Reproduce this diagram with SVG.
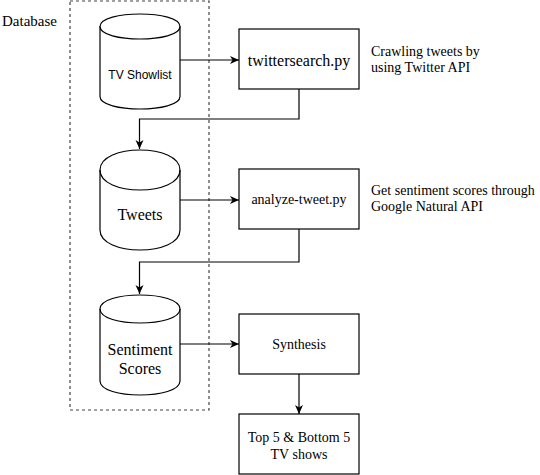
<svg xmlns="http://www.w3.org/2000/svg" width="540" height="475" viewBox="0 0 540 475">
<style>
.shape{fill:#fff;stroke:#000;stroke-width:1.2}
.edge{fill:none;stroke:#000;stroke-width:1.2}
.serif{font-family:'Liberation Serif','Times New Roman',Times,Tinos,'Nimbus Roman','Nimbus Roman No9 L','FreeSerif','Noto Serif','DejaVu Serif',serif;fill:#000}
.sans{font-family:'Liberation Sans',Arial,Helvetica,sans-serif;fill:#000}
</style>
<defs>
<marker id="arr" markerUnits="userSpaceOnUse" markerWidth="10" markerHeight="10" refX="9" refY="4.5" orient="auto" viewBox="0 0 10 9">
<path d="M0,0.5 L9,4.5 L0,8.5 L2.5,4.5 Z" fill="#000"/>
</marker>
</defs>
<rect width="540" height="475" fill="#fff"/>
<g id="database-group">
<rect x="70" y="1" width="139" height="409" fill="none" stroke="#444" stroke-width="1.2" stroke-dasharray="3,3"/>
<text class="serif" x="2" y="26" font-size="15">Database</text>
</g>
<g id="connectors">
<path class="edge" d="M180,60 L239,60" marker-end="url(#arr)"/>
<path class="edge" d="M299,89 L299,119 L139.5,119 L139.5,149" marker-end="url(#arr)"/>
<path class="edge" d="M180,200 L239,200" marker-end="url(#arr)"/>
<path class="edge" d="M299,229 L299,262 L139.5,262 L139.5,294" marker-end="url(#arr)"/>
<path class="edge" d="M180,344 L239,344" marker-end="url(#arr)"/>
<path class="edge" d="M299,374 L299,414" marker-end="url(#arr)"/>
</g>
<g id="tv-showlist">
<path class="shape" d="M100,26.5 C100,9.83 180,9.83 180,26.5 L180,96.5 C180,113.17 100,113.17 100,96.5 Z"/>
<path class="edge" d="M100,26.5 C100,43.17 180,43.17 180,26.5"/>
<text class="sans" x="140" y="79" font-size="12" text-anchor="middle">TV Showlist</text>
</g>
<g id="tweets">
<path class="shape" d="M100,170 C100,143.33 180,143.33 180,170 L180,230 C180,256.67 100,256.67 100,230 Z"/>
<path class="edge" d="M100,170 C100,196.67 180,196.67 180,170"/>
<text class="serif" x="140" y="220" font-size="16" text-anchor="middle">Tweets</text>
</g>
<g id="sentiment-scores">
<path class="shape" d="M100,309 C100,290.33 180,290.33 180,309 L180,381 C180,399.67 100,399.67 100,381 Z"/>
<path class="edge" d="M100,309 C100,327.67 180,327.67 180,309"/>
<text class="serif" x="140" y="355" font-size="16" text-anchor="middle">Sentiment</text>
<text class="serif" x="140" y="374" font-size="16" text-anchor="middle">Scores</text>
</g>
<g id="twittersearch">
<rect class="shape" x="239" y="29" width="120" height="60"/>
<text class="serif" x="299" y="65.5" font-size="16" text-anchor="middle">twittersearch.py</text>
</g>
<g id="crawling-note">
<text class="serif" x="371" y="56" font-size="14">Crawling tweets by</text>
<text class="serif" x="371" y="72" font-size="14">using Twitter API</text>
</g>
<g id="analyze-tweet">
<rect class="shape" x="239" y="169" width="120" height="60"/>
<text class="serif" x="299" y="204" font-size="14" text-anchor="middle">analyze-tweet.py</text>
</g>
<g id="sentiment-note">
<text class="serif" x="371" y="195" font-size="14">Get sentiment scores through</text>
<text class="serif" x="371" y="211" font-size="14">Google Natural API</text>
</g>
<g id="synthesis">
<rect class="shape" x="239" y="314" width="120" height="60"/>
<text class="serif" x="299" y="349" font-size="14" text-anchor="middle">Synthesis</text>
</g>
<g id="top-bottom">
<rect class="shape" x="239" y="414" width="120" height="60"/>
<text class="serif" x="299" y="442" font-size="14" text-anchor="middle">Top 5 &amp; Bottom 5</text>
<text class="serif" x="299" y="459" font-size="14" text-anchor="middle">TV shows</text>
</g>
</svg>
